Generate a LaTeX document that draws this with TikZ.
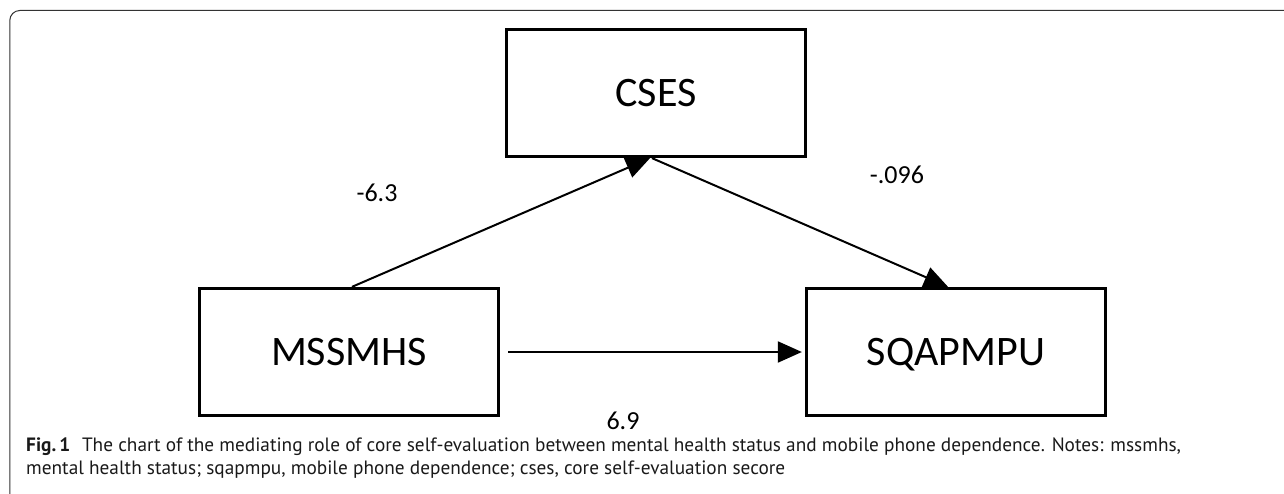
\documentclass[tikz,border=0pt]{standalone}
\usepackage{fontspec}
\setmainfont{Carlito}
\newfontfamily\capfont{PT Sans}
\usetikzlibrary{arrows.meta}
\tikzset{
  varbox/.style={draw=black, line width=3.3pt, fill=white, minimum width=299pt, minimum height=127pt,
    inner sep=0pt, font=\fontsize{42}{48}\selectfont, text height=27pt, text depth=0pt},
  coef/.style={inner sep=0pt, font=\fontsize{26}{30}\selectfont},
  path/.style={line width=2pt, -{Triangle[length=24pt,width=21pt]}},
  captext/.style={inner sep=0pt, anchor=base west, font=\capfont\fontsize{19.3}{23}\selectfont, text=black!90}
}
\begin{document}
\begin{tikzpicture}[x=1pt,y=-1pt]
\useasboundingbox (0,0) rectangle (1284,494);
\begin{scope}
\clip (0,0) rectangle (1284,494);
% outer frame (open to the right and bottom)
\draw[black!80, line width=1pt, rounded corners=10pt] (1400,10.5) -- (9.8,10.5) -- (9.8,504) -- (1400,504);
\end{scope}
% boxes
\node[varbox] (cs) at (656,93) {CSES};
\node[varbox] (ms) at (349,352) {MSSMHS};
\node[varbox] (sq) at (956,352) {SQAPMPU};
% paths
\draw[path] ([xshift=3pt]ms.north) -- ([xshift=-6pt]cs.south);
\draw[path] ([xshift=-4pt]cs.south) -- ([xshift=-8pt]sq.north);
\draw[path, shorten <=8pt, shorten >=3pt] (ms.east) -- (sq.west);
% coefficients
\node[coef] (c1) at (377,193) {-6.3};
\node[coef] (c2) at (897,175) {-.096};
\node[coef] (c3) at (623,421) {6.9};
% caption
\node[captext] (cap1) at (26,451) {\textbf{Fig.\,1}\hspace{0.6em}The chart of the mediating role of core self-evaluation between mental health status and mobile phone dependence. Notes: mssmhs,};
\node[captext] (cap2) at (26,474) {mental health status; sqapmpu, mobile phone dependence; cses, core self-evaluation secore};
\end{tikzpicture}
\end{document}
